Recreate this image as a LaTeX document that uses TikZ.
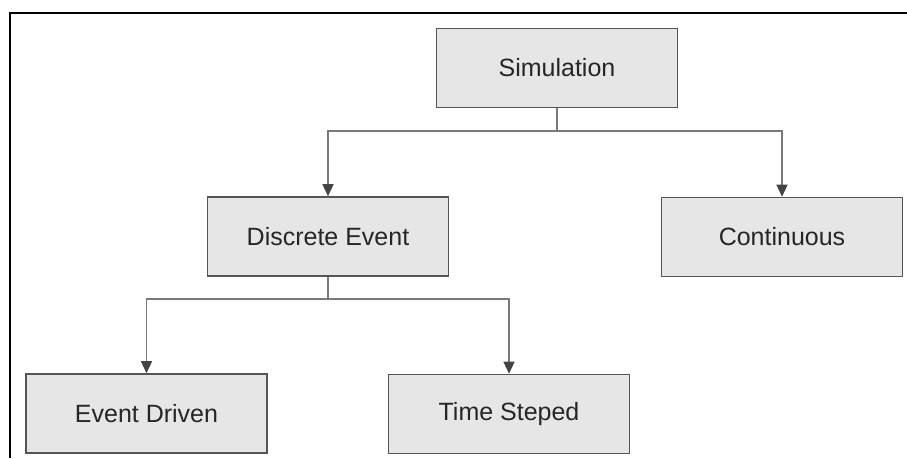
\documentclass[tikz,border=0pt]{standalone}
\usepackage{fontspec}
\setmainfont{Liberation Sans}
\usetikzlibrary{arrows.meta}
\definecolor{boxfill}{HTML}{E6E6E6}
\definecolor{boxline}{HTML}{555555}
\definecolor{linkline}{HTML}{7A7A7A}
\definecolor{tipcol}{HTML}{444444}
\tikzset{
  stepbox/.style={draw=boxline, fill=boxfill, line width=1.6pt,
    minimum width=241pt, minimum height=79pt, inner sep=0pt,
    font=\fontsize{25}{30}\selectfont, text=black!85},
  link/.style={draw=linkline, line width=1.5pt,
    -{Triangle[width=11pt,length=12pt,color=tipcol]}},
  linkplain/.style={draw=linkline, line width=1.5pt},
}
\begin{document}
\begin{tikzpicture}[x=1pt,y=-1pt]
  \useasboundingbox (0,0) rectangle (907,458);
  % outer frame (top and left edges)
  \draw[line width=1.5pt, black] (10,458) -- (10,13) -- (907,13);

  % boxes
  \node[stepbox] (sim)  at (557,68)    {Simulation};
  \node[stepbox] (disc) at (328,236.5) {Discrete Event};
  \node[stepbox] (cont) at (782,237)   {Continuous};
  \node[stepbox] (ed)   at (146.5,413.5) {Event Driven};
  \node[stepbox] (ts)   at (509,414)   {Time Steped};

  % branching points
  \coordinate (j1) at (557,131);
  \coordinate (j2) at (328,299);

  % connectors
  \draw[linkplain] (sim.south) -- (j1);
  \draw[link] (j1) -| (disc.north);
  \draw[link] (j1) -| (cont.north);
  \draw[linkplain] (disc.south) -- (j2);
  \draw[link] (j2) -| (ed.north);
  \draw[link] (j2) -| (ts.north);
\end{tikzpicture}
\end{document}
